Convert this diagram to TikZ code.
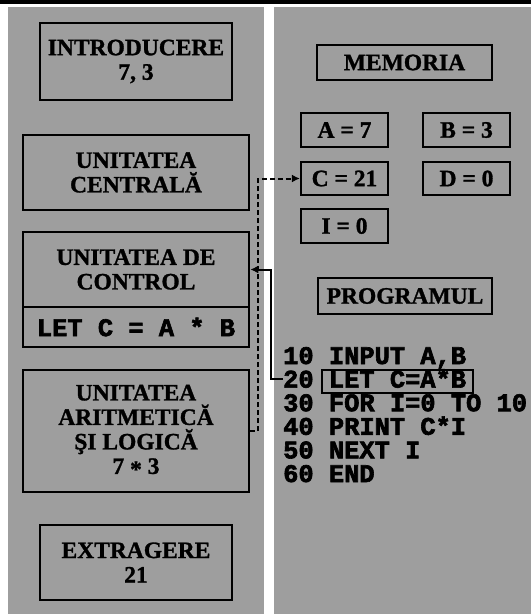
\documentclass[tikz,border=0pt]{standalone}
\usepackage{fontspec}
\setmainfont{Liberation Serif}[BoldFeatures={FakeBold=1.2}]
\setmonofont{Liberation Mono}[BoldFeatures={FakeBold=2.5}]
\usetikzlibrary{arrows.meta}
\definecolor{bgray}{gray}{0.62}
\begin{document}
\begin{tikzpicture}[x=1pt,y=-1pt,
  box/.style={draw=black, line width=2.6pt, inner sep=0pt},
  sbox/.style={draw=black, line width=2.2pt, inner sep=0pt},
  lbl/.style={font=\bfseries\fontsize{23.5}{24.5}\selectfont, align=center},
  code/.style={font=\ttfamily\bfseries\fontsize{25.4}{25.4}\selectfont, inner sep=0pt, anchor=base west},
  bus/.style={line width=2pt, dash pattern=on 5pt off 3pt, -{Latex[length=8pt,width=8pt]}},
  conn/.style={line width=2pt, -{Latex[length=8pt,width=8pt]}},
]
\useasboundingbox (0,0) rectangle (531,614);
\fill[bgray] (8,7) rectangle (264,614);
\fill[bgray] (274,7) rectangle (531,614);
\draw[line width=4pt] (0,2) -- (531,2);

% left column
\node[box, lbl, minimum width=192, minimum height=77] (intro) at (136,61.5) {INTRODUCERE\\7, 3};
\node[box, lbl, minimum width=226, minimum height=75] (cu) at (136,172.5) {UNITATEA\\CENTRALĂ};
\node[box, lbl, minimum width=226, minimum height=75] (ctrl) at (136,269.5) {UNITATEA DE\\CONTROL};
\node[box, font=\ttfamily\bfseries\fontsize{25.4}{25.4}\selectfont, minimum width=226, minimum height=40] (ctrlcmd) at (136,327) {LET C = A * B};
\node[box, lbl, minimum width=226, minimum height=122] (alu) at (136,431) {UNITATEA\\ARITMETICĂ\\ŞI LOGICĂ\\7 \raisebox{-0.3ex}{*} 3};
\node[box, lbl, minimum width=192, minimum height=75] (extr) at (136,562.5) {EXTRAGERE\\21};

% right column
\node[sbox, lbl, minimum width=175, minimum height=35] (mem) at (404.5,62.5) {MEMORIA};
\node[sbox, lbl, minimum width=87, minimum height=34] (a) at (344.5,130) {A = 7};
\node[sbox, lbl, minimum width=87, minimum height=34] (b) at (466.5,130) {B = 3};
\node[sbox, lbl, minimum width=87, minimum height=33] (c) at (344.5,178.5) {C = 21};
\node[sbox, lbl, minimum width=87, minimum height=33] (d) at (466.5,178.5) {D = 0};
\node[sbox, lbl, minimum width=87, minimum height=34] (i) at (344.5,226) {I = 0};
\node[sbox, lbl, minimum width=174, minimum height=36] (prog) at (405,296) {PROGRAMUL};

% program
\node[code] (l10) at (283,364) {10 INPUT A,B};
\node[code] (l20) at (283,387.6) {20 LET C=A*B};
\node[code] (l30) at (283,411.2) {30 FOR I=0 TO 10};
\node[code] (l40) at (283,434.8) {40 PRINT C*I};
\node[code] (l50) at (283,458.4) {50 NEXT I};
\node[code] (l60) at (283,482) {60 END};
\node[sbox, line width=2pt, minimum width=151, minimum height=23] (cmdbox) at (397.5,381.5) {};

% connectors
\draw[bus] (alu.east) -- ++(8,0) |- (c.west);
\draw[conn] (l20.west) -- ++(-12,0) |- (ctrl.east);
\end{tikzpicture}
\end{document}
